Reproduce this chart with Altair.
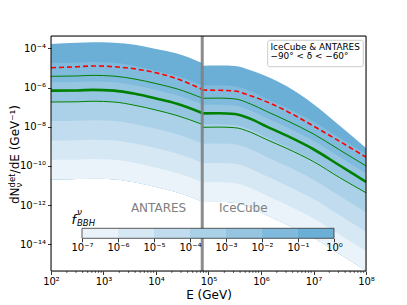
import altair as alt
import pandas as pd

# ---------------- data ----------------
# log10(E / GeV) of the read points, ANTARES part and IceCube part
LOGE_ANTARES = [2.0, 2.5, 2.8, 3.2, 3.6, 4.0, 4.4, 4.88]
LOGE_ICECUBE = [4.88, 5.2, 5.5, 5.8, 6.1, 6.5, 7.0, 7.5, 8.0]

# band edges, log10 dN/dE, edge k <-> f_BBH = 10^-k  (k = 0..7)
EDGES_ANTARES = [
    [-3.78, -3.72, -3.69, -3.71, -3.82, -4.03, -4.26, -4.75],
    [-4.74, -4.73, -4.70, -4.74, -4.90, -5.14, -5.41, -5.88],
    [-5.73, -5.72, -5.69, -5.73, -5.89, -6.13, -6.40, -6.87],
    [-6.72, -6.71, -6.68, -6.72, -6.88, -7.12, -7.39, -7.86],
    [-7.71, -7.70, -7.67, -7.71, -7.87, -8.11, -8.38, -8.85],
    [-8.70, -8.69, -8.66, -8.70, -8.86, -9.10, -9.37, -9.84],
    [-9.69, -9.68, -9.65, -9.69, -9.85, -10.09, -10.36, -10.83],
    [-10.68, -10.67, -10.64, -10.68, -10.84, -11.08, -11.35, -11.82],
]
EDGES_ICECUBE = [
    [-4.89, -4.88, -4.90, -5.12, -5.42, -5.95, -6.85, -7.95, -9.09],
    [-5.90, -5.89, -5.93, -6.18, -6.56, -7.05, -7.73, -8.56, -9.39],
    [-6.89, -6.88, -6.92, -7.17, -7.55, -8.04, -8.72, -9.55, -10.38],
    [-7.88, -7.87, -7.91, -8.16, -8.54, -9.03, -9.71, -10.54, -11.37],
    [-8.87, -8.86, -8.90, -9.15, -9.53, -10.02, -10.70, -11.53, -12.36],
    [-9.86, -9.85, -9.89, -10.14, -10.52, -11.01, -11.69, -12.52, -13.35],
    [-10.85, -10.84, -10.88, -11.13, -11.51, -12.00, -12.68, -13.51, -14.34],
    [-11.84, -11.83, -11.87, -12.12, -12.50, -12.99, -13.67, -14.50, -15.33],
]

# lines, log10 dN/dE
RED_ANTARES = [-4.99, -4.94, -4.90, -4.94, -5.05, -5.25, -5.55, -6.10]
RED_ICECUBE = [-6.13, -6.14, -6.18, -6.42, -6.72, -7.22, -7.97, -8.75, -9.55]
UPPER_ANTARES = [-5.43, -5.41, -5.38, -5.42, -5.57, -5.80, -6.07, -6.54]
UPPER_ICECUBE = [-6.55, -6.54, -6.58, -6.84, -7.21, -7.70, -8.37, -9.19, -10.00]
BEST_ANTARES = [-6.16, -6.15, -6.12, -6.16, -6.32, -6.56, -6.83, -7.30]
BEST_ICECUBE = [-7.32, -7.31, -7.35, -7.60, -7.98, -8.47, -9.15, -9.98, -10.81]
LOWER_ANTARES = [-6.74, -6.73, -6.70, -6.74, -6.91, -7.15, -7.43, -7.88]
LOWER_ICECUBE = [-8.03, -8.02, -8.05, -8.28, -8.65, -9.12, -9.78, -10.60, -11.37]

# detector split energy (GeV)
E_SPLIT = [7.6e4]

# band colours, darkest (f 0.1..1) to lightest (f 1e-7..1e-6)
BAND_COLORS = ["#6baed6", "#80badc", "#96c5e2", "#abd1e8", "#c0dcee", "#d6e8f4", "#ebf3fa"]

# colour bar
CB_LO = [1e-7, 1e-6, 1e-5, 1e-4, 1e-3, 1e-2, 1e-1]
CB_HI = [1e-6, 1e-5, 1e-4, 1e-3, 1e-2, 1e-1, 1e0]
CB_TICKS = [1e-7, 1e-6, 1e-5, 1e-4, 1e-3, 1e-2, 1e-1, 1e0]
CB_EXPS = [-7, -6, -5, -4, -3, -2, -1, 0]

# axes
X_TICKS = [1e2, 1e3, 1e4, 1e5, 1e6, 1e7, 1e8]
X_EXPS = [2, 3, 4, 5, 6, 7, 8]
Y_TICKS = [1e-14, 1e-12, 1e-10, 1e-8, 1e-6, 1e-4]
Y_EXPS = [-14, -12, -10, -8, -6, -4]
X_DOMAIN = [1e2, 1e8]
Y_DOMAIN = [10 ** -15.362, 10 ** -3.372]

# detector labels (E, dN/dE)
DET_TEXT = ["ANTARES", "IceCube"]
DET_E = [1.12e4, 4.6e5]
DET_Y = [10 ** -12.13, 10 ** -12.13]

FONT = "DejaVu Sans"
W, H = 315, 235

SUP = str.maketrans("-0123456789", "⁻⁰¹²³⁴⁵⁶⁷⁸⁹")


def label_expr(exps):
    expr = "''"
    for e in exps:
        expr = f"round(log(datum.value)/LN10) == {e} ? '10{str(e).translate(SUP)}' : ({expr})"
    return expr


X_SCALE = alt.Scale(type="log", domain=X_DOMAIN, nice=False)
Y_SCALE = alt.Scale(type="log", domain=Y_DOMAIN, nice=False)

X_AXIS = alt.Axis(values=X_TICKS, labelExpr=label_expr(X_EXPS), tickSize=3.5, tickWidth=0.8,
                  tickColor="black", domain=False, grid=False, labelFontSize=10, labelColor="black",
                  labelPadding=2, labelFlush=False, labelOverlap=False, labelFont=FONT,
                  title="E (GeV)", titleFontSize=12, titleFontWeight="normal", titleColor="black",
                  titleFont=FONT, titlePadding=3, zindex=1)
Y_AXIS = alt.Axis(values=Y_TICKS, labelExpr=label_expr(Y_EXPS), tickSize=3.5, tickWidth=0.8,
                  tickColor="black", domain=False, grid=False, labelFontSize=10, labelColor="black",
                  labelPadding=2, labelFlush=False, labelOverlap=False, labelFont=FONT,
                  title=None, zindex=1)


def xenc(field="E"):
    return alt.X(f"{field}:Q", scale=X_SCALE, axis=X_AXIS)


def yenc(field):
    return alt.Y(f"{field}:Q", scale=Y_SCALE, axis=Y_AXIS)


segments = [("ANTARES", LOGE_ANTARES, EDGES_ANTARES), ("IceCube", LOGE_ICECUBE, EDGES_ICECUBE)]

main_layers = []
# bands: each area from its own edge down to the lowest edge, darker first
for k in range(7):
    rows = []
    for seg, loge, edges in segments:
        for i, le in enumerate(loge):
            rows.append({"E": 10 ** le, "top": 10 ** edges[k][i], "bot": 10 ** edges[7][i], "seg": seg})
    main_layers.append(
        alt.Chart(pd.DataFrame(rows)).mark_area(color=BAND_COLORS[k], interpolate="monotone")
        .encode(x=xenc(), y=yenc("top"), y2=alt.Y2("bot:Q"), detail="seg:N")
    )

line_specs = [
    (RED_ANTARES, RED_ICECUBE, dict(color="red", strokeWidth=1.6, strokeDash=[5, 3])),
    (UPPER_ANTARES, UPPER_ICECUBE, dict(color="#008000", strokeWidth=1.0)),
    (LOWER_ANTARES, LOWER_ICECUBE, dict(color="#008000", strokeWidth=1.0)),
    (BEST_ANTARES, BEST_ICECUBE, dict(color="#008000", strokeWidth=2.6)),
]
for ant, ice, style in line_specs:
    rows = [{"E": 10 ** le, "v": 10 ** v, "seg": "ANTARES"} for le, v in zip(LOGE_ANTARES, ant)]
    rows += [{"E": 10 ** le, "v": 10 ** v, "seg": "IceCube"} for le, v in zip(LOGE_ICECUBE, ice)]
    main_layers.append(
        alt.Chart(pd.DataFrame(rows)).mark_line(interpolate="monotone", **style)
        .encode(x=xenc(), y=yenc("v"), detail="seg:N")
    )

# detector split
main_layers.append(
    alt.Chart(pd.DataFrame({"E": E_SPLIT})).mark_rule(color="#808080", strokeWidth=3, opacity=0.9)
    .encode(x=xenc())
)

# detector labels
main_layers.append(
    alt.Chart(pd.DataFrame({"E": DET_E, "v": DET_Y, "t": DET_TEXT}))
    .mark_text(font=FONT, fontSize=12, color="#808080", baseline="middle", align="center")
    .encode(x=xenc(), y=yenc("v"), text="t:N")
)

# minor x ticks
MINOR = [m * 10 ** k for k in range(2, 8) for m in range(2, 10)]
main_layers.append(
    alt.Chart(pd.DataFrame({"E": MINOR})).mark_rule(color="black", strokeWidth=0.6)
    .encode(x=xenc(), y=alt.value(H), y2=alt.value(H + 2))
)

main = alt.layer(*main_layers)

# ---------------- colour bar (its own log scale) ----------------
CB_SCALE = alt.Scale(type="log", domain=[1e-7, 1e0], range=[31, 283], nice=False)
CB_AXIS = alt.Axis(values=CB_TICKS, labelExpr=label_expr(CB_EXPS), orient="bottom", offset=-32.7,
                   tickSize=3.5, tickWidth=0.8, tickColor="black", domain=False, grid=False,
                   labelFontSize=10, labelColor="black", labelPadding=1, labelFlush=False,
                   labelOverlap=False, labelFont=FONT, title=None, zindex=1)
cb_df = pd.DataFrame({"lo": CB_LO, "hi": CB_HI, "col": BAND_COLORS[::-1]})
cb_rects = alt.Chart(cb_df).mark_rect().encode(
    x=alt.X("lo:Q", scale=CB_SCALE, axis=CB_AXIS), x2="hi:Q",
    y=alt.value(192.3), y2=alt.value(202.3), color=alt.Color("col:N", scale=None))
cb_box = alt.Chart(pd.DataFrame({"lo": [CB_LO[0]], "hi": [CB_HI[-1]]})).mark_rect(
    filled=False, color="#333333", strokeWidth=0.8).encode(
    x=alt.X("lo:Q", scale=CB_SCALE, axis=CB_AXIS), x2="hi:Q",
    y=alt.value(192.3), y2=alt.value(202.3))
colorbar = alt.layer(cb_rects, cb_box)

ONE = pd.DataFrame({"a": [0]})


def txt(s, x, y, size, **kw):
    return alt.Chart(ONE).mark_text(font=FONT, fontSize=size, color="black", **kw).encode(
        x=alt.value(x), y=alt.value(y), text=alt.value(s))


annotations = [
    # colour bar label f^nu_BBH
    txt("f", 20.5, 188.0, 13, fontStyle="italic", align="left", baseline="alphabetic"),
    txt("ν", 26.0, 178.5, 9, fontStyle="italic", align="left", baseline="alphabetic"),
    txt("BBH", 26.0, 190.0, 8.5, fontStyle="italic", align="left", baseline="alphabetic"),
    # legend box
    alt.Chart(ONE).mark_rect(fill="white", fillOpacity=0.85, stroke="#cccccc", strokeWidth=1,
                             cornerRadius=2).encode(
        x=alt.value(216.7), x2=alt.value(312.3), y=alt.value(4.3), y2=alt.value(30.7)),
    txt("IceCube & ANTARES", 219.5, 14.0, 8.9, align="left", baseline="alphabetic"),
    txt("−90° < δ < −60°", 219.5, 23.0, 8.9, align="left", baseline="alphabetic"),
    # y title  dN^det_nu / dE (GeV^-1)
    txt("dN", -32, 168, 12, angle=270, align="left", baseline="alphabetic"),
    txt("det", -36.5, 151.4, 8.5, angle=270, align="left", baseline="alphabetic"),
    txt("ν", -29.5, 151.4, 8.5, angle=270, align="left", baseline="alphabetic"),
    txt("/dE (GeV⁻¹)", -32, 137.4, 12, angle=270, align="left", baseline="alphabetic"),
    # frame
    alt.Chart(ONE).mark_rect(filled=False, color="black", strokeWidth=1).encode(
        x=alt.value(0), x2=alt.value(W), y=alt.value(0), y2=alt.value(H)),
]

chart = alt.layer(main, colorbar, *annotations).resolve_scale(x="independent").properties(
    width=W, height=H,
    padding={"left": 43, "top": 28, "right": 30, "bottom": 34},
    autosize=alt.AutoSizeParams(type="none"),
).configure_view(stroke=None).configure(font=FONT)

chart.save("out.html", embed_options={"renderer": "svg", "actions": False})
